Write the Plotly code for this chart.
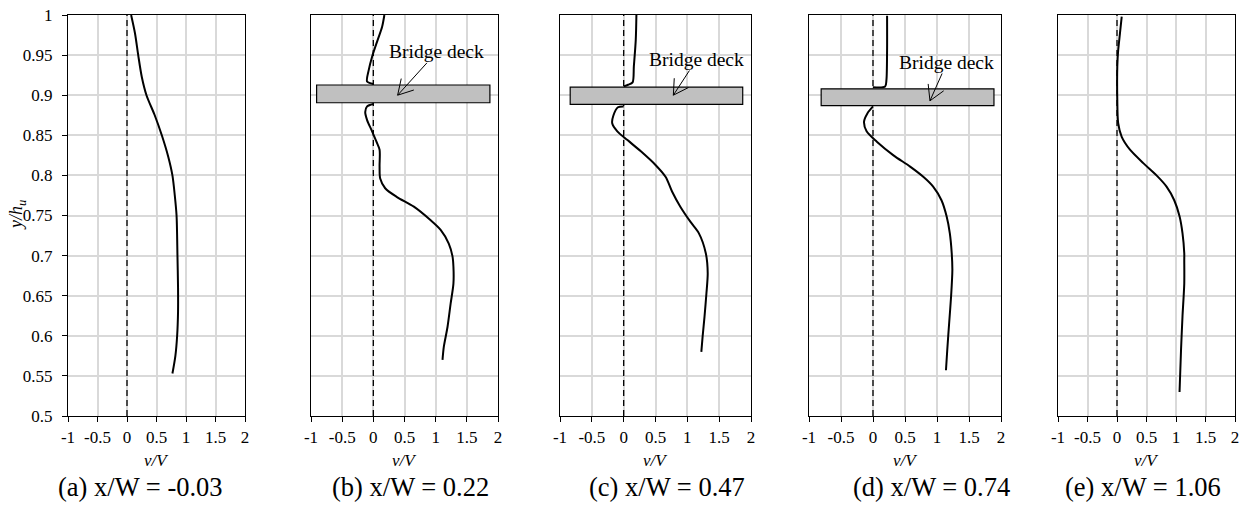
import math
import plotly.graph_objects as go

# ---- data: vertical profiles of v/V versus y/h_u at five streamwise stations ----
panel_labels = ["(a) x/W = -0.03", "(b) x/W = 0.22", "(c) x/W = 0.47",
                "(d) x/W = 0.74", "(e) x/W = 1.06"]

# (a) x/W = -0.03
a_vv = [0.07, 0.136, 0.19, 0.25, 0.33, 0.47, 0.59, 0.70, 0.77, 0.81, 0.84, 0.855,
        0.865, 0.865, 0.85, 0.82, 0.77]
a_y = [1.0, 0.977, 0.95, 0.923, 0.90, 0.875, 0.85, 0.823, 0.80, 0.775, 0.75, 0.70,
       0.66, 0.63, 0.60, 0.575, 0.553]

# (b) x/W = 0.22  (above / below the deck)
b_up_vv = [0.177, 0.14, 0.07, -0.02, -0.075, -0.10, 0.0]
b_up_y = [1.0, 0.985, 0.969, 0.948, 0.931, 0.917, 0.914]
b_lo_vv = [0.0, -0.10, -0.13, -0.10, -0.02, 0.05, 0.10, 0.10, 0.11, 0.19, 0.38, 0.65,
           0.92, 1.08, 1.21, 1.27, 1.285, 1.285, 1.24, 1.19, 1.13, 1.11]
b_lo_y = [0.889, 0.886, 0.879, 0.869, 0.855, 0.842, 0.832, 0.811, 0.796, 0.784, 0.773,
          0.761, 0.744, 0.732, 0.715, 0.699, 0.686, 0.665, 0.640, 0.611, 0.586, 0.570]

# (c) x/W = 0.47
c_up_vv = [0.20, 0.19, 0.16, 0.14, 0.07, 0.0]
c_up_y = [1.0, 0.969, 0.936, 0.916, 0.913, 0.911]
c_lo_vv = [0.0, -0.09, -0.16, -0.18, -0.10, 0.06, 0.27, 0.50, 0.66, 0.76, 0.89, 1.05,
           1.18, 1.29, 1.32, 1.30, 1.27, 1.24, 1.22]
c_lo_y = [0.886, 0.885, 0.875, 0.865, 0.855, 0.844, 0.830, 0.813, 0.798, 0.780, 0.761,
          0.742, 0.728, 0.703, 0.678, 0.653, 0.624, 0.599, 0.580]

# (d) x/W = 0.74
d_up_vv = [0.22, 0.22, 0.21, 0.19, 0.0]
d_up_y = [0.999, 0.956, 0.919, 0.911, 0.910]
d_lo_vv = [0.0, -0.09, -0.14, -0.10, 0.06, 0.32, 0.58, 0.79, 0.94, 1.07, 1.15, 1.20,
           1.23, 1.24, 1.22, 1.19, 1.16, 1.14]
d_lo_y = [0.886, 0.877, 0.867, 0.855, 0.842, 0.825, 0.811, 0.798, 0.786, 0.769, 0.749,
          0.728, 0.703, 0.682, 0.649, 0.616, 0.582, 0.557]

# (e) x/W = 1.06
e_vv = [0.08, 0.05, 0.02, 0.005, 0.005, 0.02, 0.08, 0.22, 0.45, 0.67, 0.84, 0.97, 1.06,
        1.11, 1.14, 1.14, 1.14, 1.11, 1.085, 1.06]
e_y = [0.998, 0.977, 0.956, 0.936, 0.894, 0.865, 0.848, 0.832, 0.815, 0.800, 0.786,
       0.769, 0.749, 0.728, 0.703, 0.694, 0.665, 0.624, 0.582, 0.530]

# bridge deck extents (v/V from..to, y/h_u from..to) for panels b, c, d
deck_b = [-0.91, 1.87, 0.8906, 0.9127]
deck_c = [-0.84, 1.87, 0.8886, 0.910]
deck_d = [-0.81, 1.89, 0.887, 0.908]

# "Bridge deck" label centre and arrow tip (data units)
label_b = [1.02, 0.954, 0.39, 0.900]
label_c = [1.146, 0.9445, 0.78, 0.900]
label_d = [1.156, 0.9408, 0.89, 0.893]

x_tickvals = [-1, -0.5, 0, 0.5, 1, 1.5, 2]
x_ticktext = ["-1", "-0.5", "0", "0.5", "1", "1.5", "2"]
y_tickvals = [0.5, 0.55, 0.6, 0.65, 0.7, 0.75, 0.8, 0.85, 0.9, 0.95, 1.0]
y_ticktext = ["0.5", "0.55", "0.6", "0.65", "0.7", "0.75", "0.8", "0.85", "0.9", "0.95", "1"]

X_RANGE = [-1, 2]
Y_RANGE = [0.5, 1.0]

# ---- layout geometry (pixels) ----
W, H = 1251, 510
panel_px = [(68, 245), (311, 498), (560, 751), (809, 1001), (1058, 1235)]
caption_cx = [140, 410, 667, 931, 1143]
top_px, bot_px = 15, 416

FONT = "Liberation Serif"
HEAD_LEN = 17      # arrow barb length, px
HEAD_ANGLE = 30    # arrow half-angle, degrees


def to_px(i, v, y):
    x0, x1 = panel_px[i]
    px = x0 + (v - X_RANGE[0]) / (X_RANGE[1] - X_RANGE[0]) * (x1 - x0)
    py = bot_px - (y - Y_RANGE[0]) / (Y_RANGE[1] - Y_RANGE[0]) * (bot_px - top_px)
    return px, py


def to_data(i, px, py):
    x0, x1 = panel_px[i]
    v = X_RANGE[0] + (px - x0) / (x1 - x0) * (X_RANGE[1] - X_RANGE[0])
    y = Y_RANGE[0] + (bot_px - py) / (bot_px - top_px) * (Y_RANGE[1] - Y_RANGE[0])
    return v, y


fig = go.Figure()

curves = [
    [(a_vv, a_y)],
    [(b_up_vv, b_up_y), (b_lo_vv, b_lo_y)],
    [(c_up_vv, c_up_y), (c_lo_vv, c_lo_y)],
    [(d_up_vv, d_up_y), (d_lo_vv, d_lo_y)],
    [(e_vv, e_y)],
]
decks = [None, deck_b, deck_c, deck_d, None]
labels = [None, label_b, label_c, label_d, None]

shapes = []
annotations = []

for i in range(5):
    sfx = "" if i == 0 else str(i + 1)
    xref, yref = "x" + sfx, "y" + sfx
    # dashed reference line at v/V = 0
    fig.add_trace(go.Scatter(x=[0, 0], y=Y_RANGE, mode="lines",
                             line=dict(color="black", width=1.3, dash="6px,4px"),
                             xaxis=xref, yaxis=yref, showlegend=False, hoverinfo="skip"))
    for vv, yy in curves[i]:
        fig.add_trace(go.Scatter(x=vv, y=yy, mode="lines",
                                 line=dict(color="black", width=2, shape="spline", smoothing=0.8),
                                 xaxis=xref, yaxis=yref, showlegend=False))
    x0, x1 = panel_px[i]
    dom_x = [x0 / W, x1 / W]
    dom_y = [1 - bot_px / H, 1 - top_px / H]
    fig.layout["xaxis" + sfx] = dict(
        domain=dom_x, range=X_RANGE, anchor=yref, automargin=False,
        tickvals=x_tickvals, ticktext=x_ticktext,
        showgrid=True, gridcolor="#d9d9d9", gridwidth=2, zeroline=False,
        showline=True, linecolor="black", linewidth=1.3, mirror=True,
        ticks="outside", ticklen=5, tickcolor="black", tickwidth=1,
        tickfont=dict(family=FONT, size=17, color="black"),
    )
    fig.layout["yaxis" + sfx] = dict(
        domain=dom_y, range=Y_RANGE, anchor=xref, automargin=False,
        tickvals=y_tickvals, ticktext=y_ticktext,
        showticklabels=(i == 0),
        showgrid=True, gridcolor="#d9d9d9", gridwidth=2, zeroline=False,
        showline=True, linecolor="black", linewidth=1.3, mirror=True,
        ticks="outside" if i == 0 else "", ticklen=5, tickcolor="black", tickwidth=1,
        ticklabelstandoff=6,
        tickfont=dict(family=FONT, size=17, color="black"),
    )
    if decks[i] is not None:
        dx0, dx1, dy0, dy1 = decks[i]
        shapes.append(dict(type="rect", xref=xref, yref=yref, x0=dx0, x1=dx1, y0=dy0, y1=dy1,
                           fillcolor="#c0c0c0", line=dict(color="black", width=1.2), layer="above"))
        tx, ty, hx, hy = labels[i]
        # label with a plain shaft pointing at the deck
        annotations.append(dict(xref=xref, yref=yref, axref=xref, ayref=yref,
                                x=hx, y=hy, ax=tx, ay=ty, text="Bridge deck",
                                font=dict(family=FONT, size=19.5, color="black"),
                                borderpad=0,
                                showarrow=True, arrowhead=0, arrowwidth=1,
                                arrowcolor="black"))
        # open V arrow head at the tip
        tpx, tpy = to_px(i, hx, hy)
        cpx, cpy = to_px(i, tx, ty)
        base = math.atan2(cpy - tpy, cpx - tpx)
        pts = []
        for sgn in (-1, 1):
            ang = base + sgn * math.radians(HEAD_ANGLE)
            pts.append(to_data(i, tpx + HEAD_LEN * math.cos(ang), tpy + HEAD_LEN * math.sin(ang)))
        path = "M{},{} L{},{} L{},{}".format(pts[0][0], pts[0][1], hx, hy, pts[1][0], pts[1][1])
        shapes.append(dict(type="path", xref=xref, yref=yref, path=path,
                           line=dict(color="black", width=1), layer="above"))
    # axis title v/V
    annotations.append(dict(xref="paper", yref="paper", x=(x0 + x1) / 2 / W, y=1 - 460 / H,
                            xanchor="center", yanchor="middle",
                            text="<i>v/V</i>", showarrow=False,
                            font=dict(family=FONT, size=17, color="black")))
    # panel caption
    annotations.append(dict(xref="paper", yref="paper", x=caption_cx[i] / W, y=1 - 487 / H,
                            xanchor="center", yanchor="middle",
                            text=panel_labels[i], showarrow=False,
                            font=dict(family=FONT, size=26.5, color="black")))

# y-axis title for the first panel
annotations.append(dict(xref="paper", yref="paper", x=17 / W, y=1 - 215 / H,
                        xanchor="center", yanchor="middle",
                        text="<i>y/h<sub>u</sub></i>", showarrow=False, textangle=-90,
                        font=dict(family=FONT, size=18, color="black")))

fig.update_layout(
    width=W, height=H, autosize=False,
    margin=dict(l=0, r=0, t=0, b=0, pad=0, autoexpand=False),
    paper_bgcolor="white", plot_bgcolor="white",
    shapes=shapes, annotations=annotations,
    showlegend=False,
)

fig.write_html("out.html")
